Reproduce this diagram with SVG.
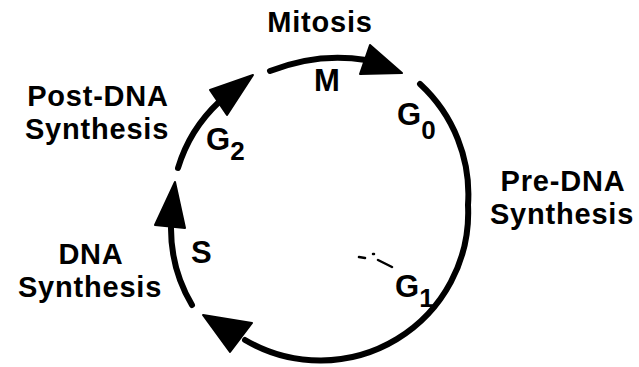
<svg xmlns="http://www.w3.org/2000/svg" width="639" height="367" viewBox="0 0 639 367">
<style>
.t{font-family:"Liberation Sans",Arial,sans-serif;font-weight:bold;font-size:31px;fill:#000}
.l{font-size:29px;letter-spacing:0.8px}
.c{text-anchor:middle}
.sub{font-size:26px}
.arc{fill:none;stroke:#000;stroke-width:6;stroke-linecap:round}
.head{fill:#000;stroke:#000;stroke-width:2;stroke-linejoin:round}
</style>
<rect width="639" height="367" fill="#fff"/>
<g id="connectors">
<path class="arc" d="M 270 71 Q 318 52 366 60"/>
<polygon class="head" points="370,45 402,73 360,74"/>
<path class="arc" d="M 420 84 A 150 150 0 0 1 468 205 A 148 148 0 0 1 245 340"/>
<polygon class="head" points="203,315 252,323 230,352"/>
<path class="arc" d="M 192 305 A 150 150 0 0 1 171 228"/>
<polygon class="head" points="175,182 155,225 185,228"/>
<path class="arc" d="M 178 168 A 150 150 0 0 1 219 102"/>
<polygon class="head" points="253,75 210,90 227,115"/>
<path fill="none" stroke="#000" stroke-width="2.5" stroke-linecap="round" d="M 359 257 L 365 258 M 373 254 L 374 254 M 378 260 L 392 267"/>
</g>
<g id="mitosis"><text class="t c l" x="320" y="32">Mitosis</text><text class="t c" x="327" y="91">M</text></g>
<g id="g0"><text class="t" x="397" y="125">G<tspan class="sub" dy="14">0</tspan></text></g>
<g id="g1"><text class="t" x="395" y="297">G<tspan class="sub" dy="10">1</tspan></text></g>
<g id="g2"><text class="t" x="206" y="150">G<tspan class="sub" dy="10">2</tspan></text></g>
<g id="s"><text class="t" x="191" y="263">S</text></g>
<g id="post-dna"><text class="t c l" x="98" y="106">Post-DNA</text><text class="t c l" x="97" y="139">Synthesis</text></g>
<g id="dna"><text class="t c l" x="91" y="264">DNA</text><text class="t c l" x="90" y="297">Synthesis</text></g>
<g id="pre-dna"><text class="t c l" x="563" y="191">Pre-DNA</text><text class="t c l" x="562" y="224">Synthesis</text></g>
</svg>
